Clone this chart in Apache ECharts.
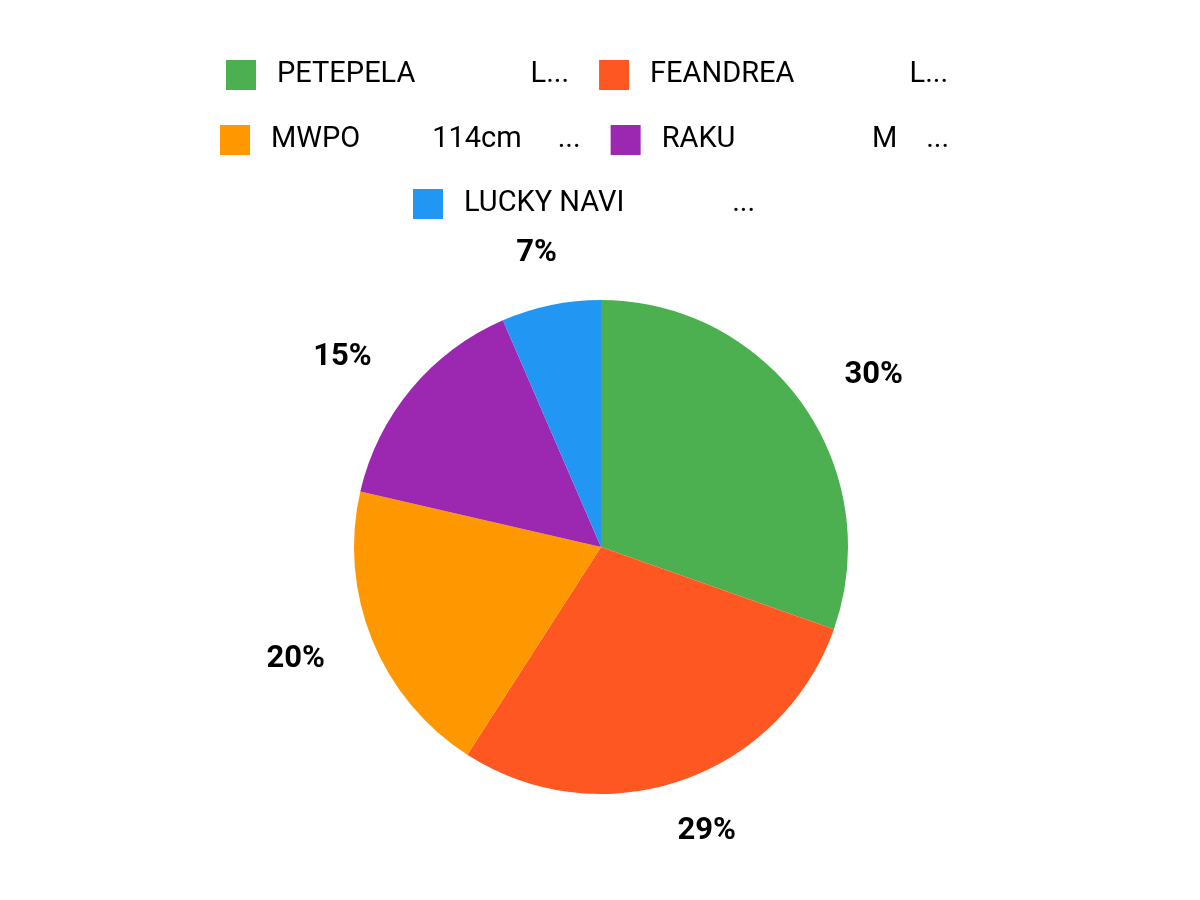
<!DOCTYPE html>
<html>
<head>
<meta charset="utf-8">
<script src="https://cdn.jsdelivr.net/npm/echarts@6/dist/echarts.min.js"></script>
<style>
  html, body { margin: 0; padding: 0; background: #fff; }
  #chart { width: 1200px; height: 900px; }
</style>
</head>
<body>
<div id="chart"></div>
<script>
// legend names as shown (long product names, cut off in the picture)
const names = [
  'PETEPELA                L...',
  'FEANDREA                L...',
  'MWPO          114cm     ...',
  'RAKU                   M    ...',
  'LUCKY NAVI               ...'
];
// share of each slice
const shares = [30.4, 28.7, 19.5, 14.9, 6.5];
const colors = ['#4CAF50', '#FF5722', '#FF9800', '#9C27B0', '#2196F3'];

// one legend per row, the rows are centred a bit left of the middle
const legendRows = [[0, 1], [2, 3], [4]];
const rowTops = [60, 125, 189];
const rowLefts = [226, 220, 413];

const chart = echarts.init(document.getElementById('chart'));

const legendBase = {
  orient: 'horizontal',
  padding: 0,
  icon: 'rect',
  itemWidth: 30,
  itemHeight: 30,
  itemGap: 30,
  selectedMode: false,
  textStyle: {
    fontFamily: 'Roboto',
    fontSize: 29,
    color: '#000',
    padding: [0, 0, 0, 16]
  }
};

// labels just outside the pie: side ones hang off the anchor point,
// ones near the top or bottom sit roughly centred on it
function placeLabel(params) {
  const pts = params.labelLinePoints;
  if (!pts) return {};
  let ux = pts[1][0] - pts[0][0];
  let uy = pts[1][1] - pts[0][1];
  const len = Math.sqrt(ux * ux + uy * uy) || 1;
  ux /= len; uy /= len;
  const half = params.labelRect.width / 2;
  if (Math.abs(ux) > 0.5) {
    return {
      x: pts[1][0] + Math.sign(ux) * (half + 1),
      y: pts[1][1],
      align: 'center',
      verticalAlign: 'middle'
    };
  }
  return {
    x: pts[1][0] + ux * half,
    y: pts[1][1] + uy * 3,
    align: 'center',
    verticalAlign: 'middle'
  };
}

const option = {
  backgroundColor: '#fff',
  color: colors,
  legend: legendRows.map((row, i) => Object.assign({}, legendBase, {
    top: rowTops[i],
    left: rowLefts[i],
    data: row.map(k => names[k])
  })),
  series: [{
    type: 'pie',
    center: [601, 547],
    radius: 247,
    startAngle: 90,
    clockwise: true,
    percentPrecision: 2,
    silent: true,
    data: names.map((n, i) => ({ name: n, value: shares[i] })),
    label: {
      show: true,
      position: 'outside',
      fontFamily: 'Roboto',
      fontSize: 31,
      fontWeight: 'bold',
      color: '#000',
      formatter: p => Math.round(p.percent) + '%'
    },
    labelLine: { show: false, length: 50, length2: 0 },
    labelLayout: placeLabel,
    itemStyle: { borderWidth: 0 }
  }]
};

chart.setOption(option);
</script>
</body>
</html>
